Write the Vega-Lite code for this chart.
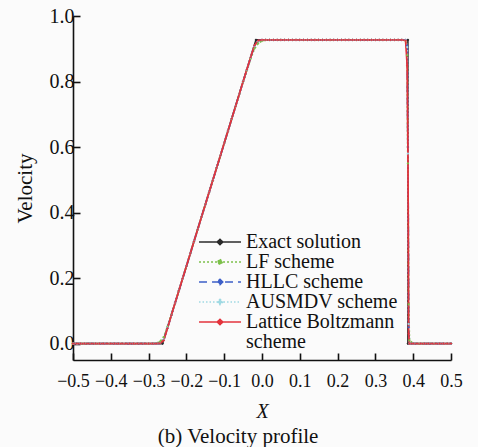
{
  "$schema": "https://vega.github.io/schema/vega-lite/v6.json",
  "autosize": "none",
  "width": 378,
  "height": 344,
  "padding": {"left": 73, "top": 16, "right": 27, "bottom": 87},
  "background": "#fbfbfb",
  "title": {
    "text": "(b) Velocity profile",
    "orient": "bottom",
    "anchor": "middle",
    "frame": "bounds",
    "font": "Liberation Serif, Times New Roman, DejaVu Serif, serif",
    "fontSize": 21,
    "fontWeight": "normal",
    "color": "#111",
    "offset": 5
  },
  "datasets": {
    "exact": [
      {"i": 0, "x": -0.5, "v": 0, "series": "Exact"},
      {"i": 1, "x": -0.263, "v": 0, "series": "Exact"},
      {"i": 2, "x": -0.016, "v": 0.927, "series": "Exact"},
      {"i": 3, "x": 0.386, "v": 0.927, "series": "Exact"},
      {"i": 4, "x": 0.386, "v": 0, "series": "Exact"},
      {"i": 5, "x": 0.5, "v": 0, "series": "Exact"}
    ],
    "schemes": [
      {"x": -0.50, "LF": 0, "HLLC": 0, "AUSMDV": 0, "LB": 0},
      {"x": -0.49, "LF": 0, "HLLC": 0, "AUSMDV": 0, "LB": 0},
      {"x": -0.48, "LF": 0, "HLLC": 0, "AUSMDV": 0, "LB": 0},
      {"x": -0.47, "LF": 0, "HLLC": 0, "AUSMDV": 0, "LB": 0},
      {"x": -0.46, "LF": 0, "HLLC": 0, "AUSMDV": 0, "LB": 0},
      {"x": -0.45, "LF": 0, "HLLC": 0, "AUSMDV": 0, "LB": 0},
      {"x": -0.44, "LF": 0, "HLLC": 0, "AUSMDV": 0, "LB": 0},
      {"x": -0.43, "LF": 0, "HLLC": 0, "AUSMDV": 0, "LB": 0},
      {"x": -0.42, "LF": 0, "HLLC": 0, "AUSMDV": 0, "LB": 0},
      {"x": -0.41, "LF": 0, "HLLC": 0, "AUSMDV": 0, "LB": 0},
      {"x": -0.40, "LF": 0, "HLLC": 0, "AUSMDV": 0, "LB": 0},
      {"x": -0.39, "LF": 0, "HLLC": 0, "AUSMDV": 0, "LB": 0},
      {"x": -0.38, "LF": 0, "HLLC": 0, "AUSMDV": 0, "LB": 0},
      {"x": -0.37, "LF": 0, "HLLC": 0, "AUSMDV": 0, "LB": 0},
      {"x": -0.36, "LF": 0, "HLLC": 0, "AUSMDV": 0, "LB": 0},
      {"x": -0.35, "LF": 0, "HLLC": 0, "AUSMDV": 0, "LB": 0},
      {"x": -0.34, "LF": 0, "HLLC": 0, "AUSMDV": 0, "LB": 0},
      {"x": -0.33, "LF": 0, "HLLC": 0, "AUSMDV": 0, "LB": 0},
      {"x": -0.32, "LF": 0, "HLLC": 0, "AUSMDV": 0, "LB": 0},
      {"x": -0.31, "LF": 0, "HLLC": 0, "AUSMDV": 0, "LB": 0},
      {"x": -0.30, "LF": 0, "HLLC": 0, "AUSMDV": 0, "LB": 0},
      {"x": -0.29, "LF": 0, "HLLC": 0, "AUSMDV": 0, "LB": 0},
      {"x": -0.28, "LF": 0.001, "HLLC": 0, "AUSMDV": 0, "LB": 0},
      {"x": -0.27, "LF": 0.006, "HLLC": 0.001, "AUSMDV": 0.001, "LB": 0.001},
      {"x": -0.26, "LF": 0.020, "HLLC": 0.012, "AUSMDV": 0.013, "LB": 0.010},
      {"x": -0.25, "LF": 0.052, "HLLC": 0.048, "AUSMDV": 0.049, "LB": 0.047},
      {"x": -0.24, "LF": 0.087, "HLLC": 0.086, "AUSMDV": 0.086, "LB": 0.086},
      {"x": -0.23, "LF": 0.124, "HLLC": 0.124, "AUSMDV": 0.124, "LB": 0.124},
      {"x": -0.22, "LF": 0.161, "HLLC": 0.161, "AUSMDV": 0.161, "LB": 0.161},
      {"x": -0.21, "LF": 0.199, "HLLC": 0.199, "AUSMDV": 0.199, "LB": 0.199},
      {"x": -0.20, "LF": 0.236, "HLLC": 0.236, "AUSMDV": 0.236, "LB": 0.236},
      {"x": -0.19, "LF": 0.274, "HLLC": 0.274, "AUSMDV": 0.274, "LB": 0.274},
      {"x": -0.18, "LF": 0.312, "HLLC": 0.312, "AUSMDV": 0.312, "LB": 0.312},
      {"x": -0.17, "LF": 0.349, "HLLC": 0.349, "AUSMDV": 0.349, "LB": 0.349},
      {"x": -0.16, "LF": 0.387, "HLLC": 0.387, "AUSMDV": 0.387, "LB": 0.387},
      {"x": -0.15, "LF": 0.424, "HLLC": 0.424, "AUSMDV": 0.424, "LB": 0.424},
      {"x": -0.14, "LF": 0.462, "HLLC": 0.462, "AUSMDV": 0.462, "LB": 0.462},
      {"x": -0.13, "LF": 0.499, "HLLC": 0.499, "AUSMDV": 0.499, "LB": 0.499},
      {"x": -0.12, "LF": 0.537, "HLLC": 0.537, "AUSMDV": 0.537, "LB": 0.537},
      {"x": -0.11, "LF": 0.574, "HLLC": 0.574, "AUSMDV": 0.574, "LB": 0.574},
      {"x": -0.10, "LF": 0.612, "HLLC": 0.612, "AUSMDV": 0.612, "LB": 0.612},
      {"x": -0.09, "LF": 0.649, "HLLC": 0.649, "AUSMDV": 0.649, "LB": 0.649},
      {"x": -0.08, "LF": 0.687, "HLLC": 0.687, "AUSMDV": 0.687, "LB": 0.687},
      {"x": -0.07, "LF": 0.724, "HLLC": 0.724, "AUSMDV": 0.724, "LB": 0.724},
      {"x": -0.06, "LF": 0.762, "HLLC": 0.762, "AUSMDV": 0.762, "LB": 0.762},
      {"x": -0.05, "LF": 0.799, "HLLC": 0.800, "AUSMDV": 0.800, "LB": 0.800},
      {"x": -0.04, "LF": 0.834, "HLLC": 0.836, "AUSMDV": 0.836, "LB": 0.837},
      {"x": -0.03, "LF": 0.870, "HLLC": 0.874, "AUSMDV": 0.873, "LB": 0.874},
      {"x": -0.02, "LF": 0.900, "HLLC": 0.909, "AUSMDV": 0.908, "LB": 0.910},
      {"x": -0.01, "LF": 0.917, "HLLC": 0.924, "AUSMDV": 0.923, "LB": 0.925},
      {"x": 0.00, "LF": 0.924, "HLLC": 0.927, "AUSMDV": 0.927, "LB": 0.927},
      {"x": 0.01, "LF": 0.927, "HLLC": 0.927, "AUSMDV": 0.927, "LB": 0.927},
      {"x": 0.02, "LF": 0.927, "HLLC": 0.927, "AUSMDV": 0.927, "LB": 0.927},
      {"x": 0.03, "LF": 0.927, "HLLC": 0.927, "AUSMDV": 0.927, "LB": 0.927},
      {"x": 0.04, "LF": 0.927, "HLLC": 0.927, "AUSMDV": 0.927, "LB": 0.927},
      {"x": 0.05, "LF": 0.927, "HLLC": 0.927, "AUSMDV": 0.927, "LB": 0.927},
      {"x": 0.06, "LF": 0.927, "HLLC": 0.927, "AUSMDV": 0.927, "LB": 0.927},
      {"x": 0.07, "LF": 0.927, "HLLC": 0.927, "AUSMDV": 0.927, "LB": 0.927},
      {"x": 0.08, "LF": 0.927, "HLLC": 0.927, "AUSMDV": 0.927, "LB": 0.927},
      {"x": 0.09, "LF": 0.927, "HLLC": 0.927, "AUSMDV": 0.927, "LB": 0.927},
      {"x": 0.10, "LF": 0.927, "HLLC": 0.927, "AUSMDV": 0.927, "LB": 0.927},
      {"x": 0.11, "LF": 0.927, "HLLC": 0.927, "AUSMDV": 0.927, "LB": 0.927},
      {"x": 0.12, "LF": 0.927, "HLLC": 0.927, "AUSMDV": 0.927, "LB": 0.927},
      {"x": 0.13, "LF": 0.927, "HLLC": 0.927, "AUSMDV": 0.927, "LB": 0.927},
      {"x": 0.14, "LF": 0.927, "HLLC": 0.927, "AUSMDV": 0.927, "LB": 0.927},
      {"x": 0.15, "LF": 0.927, "HLLC": 0.927, "AUSMDV": 0.927, "LB": 0.927},
      {"x": 0.16, "LF": 0.927, "HLLC": 0.927, "AUSMDV": 0.927, "LB": 0.927},
      {"x": 0.17, "LF": 0.927, "HLLC": 0.927, "AUSMDV": 0.927, "LB": 0.927},
      {"x": 0.18, "LF": 0.927, "HLLC": 0.927, "AUSMDV": 0.927, "LB": 0.927},
      {"x": 0.19, "LF": 0.927, "HLLC": 0.927, "AUSMDV": 0.927, "LB": 0.927},
      {"x": 0.20, "LF": 0.927, "HLLC": 0.927, "AUSMDV": 0.927, "LB": 0.927},
      {"x": 0.21, "LF": 0.927, "HLLC": 0.927, "AUSMDV": 0.927, "LB": 0.927},
      {"x": 0.22, "LF": 0.927, "HLLC": 0.927, "AUSMDV": 0.927, "LB": 0.927},
      {"x": 0.23, "LF": 0.927, "HLLC": 0.927, "AUSMDV": 0.927, "LB": 0.927},
      {"x": 0.24, "LF": 0.927, "HLLC": 0.927, "AUSMDV": 0.927, "LB": 0.927},
      {"x": 0.25, "LF": 0.927, "HLLC": 0.927, "AUSMDV": 0.927, "LB": 0.927},
      {"x": 0.26, "LF": 0.927, "HLLC": 0.927, "AUSMDV": 0.927, "LB": 0.927},
      {"x": 0.27, "LF": 0.927, "HLLC": 0.927, "AUSMDV": 0.927, "LB": 0.927},
      {"x": 0.28, "LF": 0.927, "HLLC": 0.927, "AUSMDV": 0.927, "LB": 0.927},
      {"x": 0.29, "LF": 0.927, "HLLC": 0.927, "AUSMDV": 0.927, "LB": 0.927},
      {"x": 0.30, "LF": 0.927, "HLLC": 0.927, "AUSMDV": 0.927, "LB": 0.927},
      {"x": 0.31, "LF": 0.927, "HLLC": 0.927, "AUSMDV": 0.927, "LB": 0.927},
      {"x": 0.32, "LF": 0.927, "HLLC": 0.927, "AUSMDV": 0.927, "LB": 0.927},
      {"x": 0.33, "LF": 0.927, "HLLC": 0.927, "AUSMDV": 0.927, "LB": 0.927},
      {"x": 0.34, "LF": 0.927, "HLLC": 0.927, "AUSMDV": 0.927, "LB": 0.927},
      {"x": 0.35, "LF": 0.927, "HLLC": 0.927, "AUSMDV": 0.927, "LB": 0.927},
      {"x": 0.36, "LF": 0.927, "HLLC": 0.927, "AUSMDV": 0.927, "LB": 0.927},
      {"x": 0.37, "LF": 0.927, "HLLC": 0.927, "AUSMDV": 0.927, "LB": 0.927},
      {"x": 0.38, "LF": 0.925, "HLLC": 0.927, "AUSMDV": 0.927, "LB": 0.925},
      {"x": 0.384, "LF": 0.88, "HLLC": 0.91, "AUSMDV": 0.905, "LB": 0.85},
      {"x": 0.386, "LF": 0.55, "HLLC": 0.60, "AUSMDV": 0.58, "LB": 0.60},
      {"x": 0.388, "LF": 0.12, "HLLC": 0.05, "AUSMDV": 0.06, "LB": 0.03},
      {"x": 0.39, "LF": 0.01, "HLLC": 0, "AUSMDV": 0, "LB": 0},
      {"x": 0.40, "LF": 0, "HLLC": 0, "AUSMDV": 0, "LB": 0},
      {"x": 0.41, "LF": 0, "HLLC": 0, "AUSMDV": 0, "LB": 0},
      {"x": 0.42, "LF": 0, "HLLC": 0, "AUSMDV": 0, "LB": 0},
      {"x": 0.43, "LF": 0, "HLLC": 0, "AUSMDV": 0, "LB": 0},
      {"x": 0.44, "LF": 0, "HLLC": 0, "AUSMDV": 0, "LB": 0},
      {"x": 0.45, "LF": 0, "HLLC": 0, "AUSMDV": 0, "LB": 0},
      {"x": 0.46, "LF": 0, "HLLC": 0, "AUSMDV": 0, "LB": 0},
      {"x": 0.47, "LF": 0, "HLLC": 0, "AUSMDV": 0, "LB": 0},
      {"x": 0.48, "LF": 0, "HLLC": 0, "AUSMDV": 0, "LB": 0},
      {"x": 0.49, "LF": 0, "HLLC": 0, "AUSMDV": 0, "LB": 0},
      {"x": 0.50, "LF": 0, "HLLC": 0, "AUSMDV": 0, "LB": 0}
    ]
  },
  "encoding": {
    "x": {
      "field": "x",
      "type": "quantitative",
      "scale": {"domain": [-0.5, 0.5], "nice": false, "zero": false},
      "axis": {
        "title": "X",
        "titleFont": "Liberation Serif, Times New Roman, DejaVu Serif, serif",
        "titleFontStyle": "italic",
        "values": [-0.5, -0.4, -0.3, -0.2, -0.1, 0, 0.1, 0.2, 0.3, 0.4, 0.5],
        "format": ".1f",
        "labelFont": "Liberation Serif, Times New Roman, DejaVu Serif, serif",
        "labelFontSize": 18,
        "labelPadding": 19,
        "titlePadding": 11
      }
    },
    "y": {
      "field": "v",
      "type": "quantitative",
      "scale": {"domain": [-0.05, 1.0], "nice": false, "zero": false},
      "axis": {
        "title": "Velocity",
        "titleFont": "Liberation Serif, Times New Roman, DejaVu Serif, serif",
        "titleFontSize": 21,
        "values": [0, 0.2, 0.4, 0.6, 0.8, 1.0],
        "format": ".1f",
        "labelFont": "Liberation Serif, Times New Roman, DejaVu Serif, serif",
        "labelFontSize": 20,
        "labelPadding": 6,
        "titlePadding": 14
      }
    },
    "color": {
      "field": "series",
      "type": "nominal",
      "scale": {
        "domain": ["Exact", "LF", "HLLC", "AUSMDV", "LB"],
        "range": ["#2b2b2b", "#7cc04a", "#3d5fc8", "#9fd9e3", "#e3333c"]
      },
      "legend": {
        "orient": "none",
        "legendX": 137,
        "legendY": 216,
        "title": null,
        "gridAlign": "each",
        "rowPadding": -2,
        "labelFont": "Liberation Serif, Times New Roman, DejaVu Serif, serif",
        "labelExpr": "datum.value == 'Exact' ? 'Exact solution' : datum.value == 'LF' ? 'LF scheme' : datum.value == 'HLLC' ? 'HLLC scheme' : datum.value == 'AUSMDV' ? 'AUSMDV scheme' : ['Lattice Boltzmann', 'scheme']",
        "encode": {
          "symbols": {"update": {"fill": {"scale": "color", "field": "value"}}},
          "labels": {"update": {"lineHeight": {"value": 20}}}
        }
      }
    },
    "strokeDash": {
      "field": "series",
      "type": "nominal",
      "scale": {
        "domain": ["Exact", "LF", "HLLC", "AUSMDV", "LB"],
        "range": [[1, 0], [2, 2], [8, 5], [1.5, 2], [1, 0]]
      },
      "legend": null
    }
  },
  "layer": [
    {
      "data": {"name": "exact"},
      "mark": {"type": "line", "strokeWidth": 1.6, "point": {"filled": true, "size": 8, "shape": "diamond"}},
      "encoding": {"order": {"field": "i"}}
    },
    {
      "data": {"name": "schemes"},
      "transform": [{"fold": ["LF", "HLLC", "AUSMDV", "LB"], "as": ["series", "v"]}],
      "mark": {"type": "line", "strokeWidth": 1.8, "point": {"filled": true, "size": 7, "shape": "diamond"}},
      "encoding": {}
    }
  ],
  "config": {
    "view": {"stroke": null},
    "font": "Liberation Serif, Times New Roman, DejaVu Serif, serif",
    "axis": {
      "grid": false,
      "domainColor": "#111",
      "domainWidth": 1.6,
      "tickColor": "#111",
      "tickWidth": 1.6,
      "tickSize": -7,
      "labelColor": "#111",
      "labelFlush": false,
      "labelOverlap": false,
      "titleFontSize": 20,
      "titleFontWeight": "normal",
      "titleColor": "#111"
    },
    "legend": {
      "symbolType": "M-2.33,0H2.33M0,-0.3L0.3,0L0,0.3L-0.3,0Z",
      "symbolSize": 324,
      "symbolStrokeWidth": 1.6,
      "labelFontSize": 20,
      "labelColor": "#111",
      "labelOffset": 16,
      "labelLimit": 0,
      "padding": 0
    }
  }
}
